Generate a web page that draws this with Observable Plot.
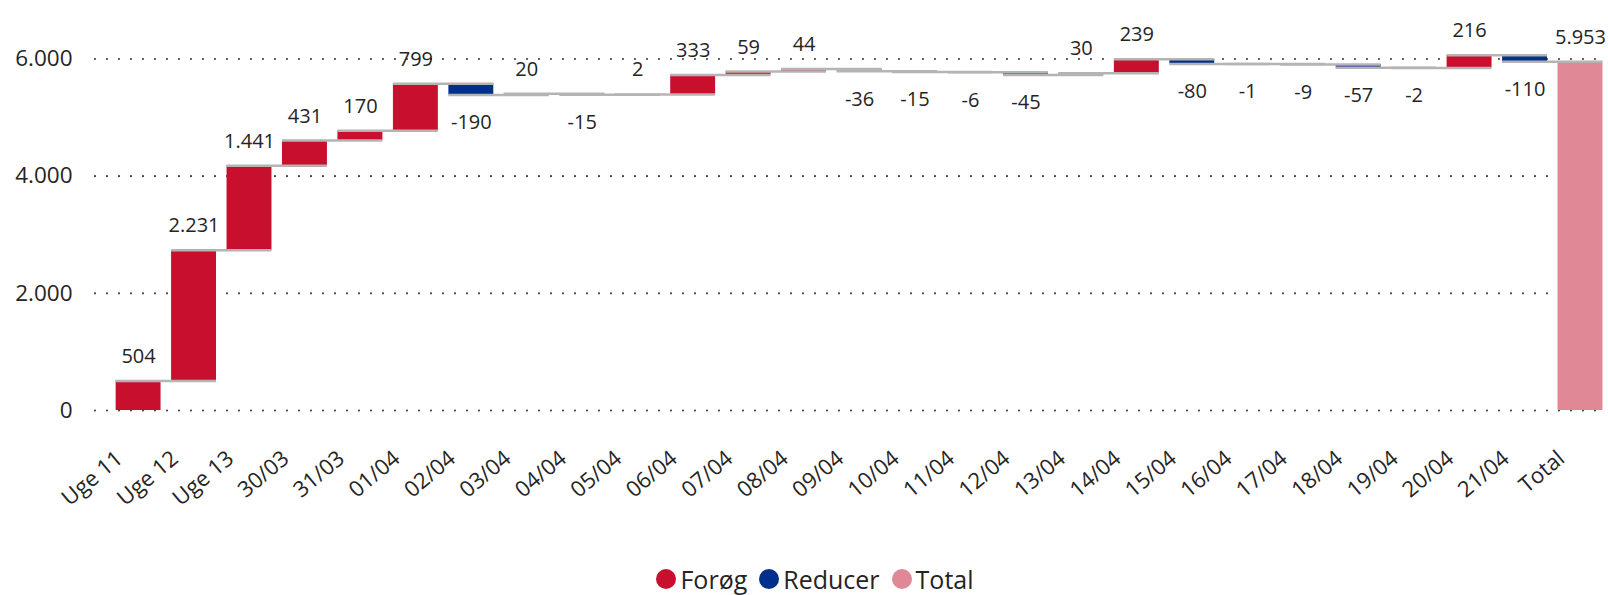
<!DOCTYPE html>
<html><head><meta charset="utf-8">
<script src="https://cdn.jsdelivr.net/npm/d3@7"></script>
<script src="https://cdn.jsdelivr.net/npm/@observablehq/plot@0.6"></script>
<style>
html,body{margin:0;padding:0;background:#fff;}
body{width:1608px;height:595px;overflow:hidden;position:relative;font-family:"Open Sans",sans-serif;color:#252423;}
#chart{position:absolute;left:0;top:0;}
#legend{position:absolute;left:0;right:0;top:564px;height:30px;padding-left:22px;display:flex;justify-content:center;align-items:center;font-size:25px;line-height:30px;}
.item{display:flex;align-items:center;margin:0 6px;}
.dot{width:20px;height:20px;border-radius:50%;margin-right:4px;}
</style></head><body>
<div id="chart"></div>
<div id="legend"></div>
<script>
const categories = ["Uge 11","Uge 12","Uge 13","30/03","31/03","01/04","02/04","03/04","04/04","05/04","06/04","07/04","08/04","09/04","10/04","11/04","12/04","13/04","14/04","15/04","16/04","17/04","18/04","19/04","20/04","21/04"];
const values = [504,2231,1441,431,170,799,-190,20,-15,2,333,59,44,-36,-15,-6,-45,30,239,-80,-1,-9,-57,-2,216,-110];
const totalLabel = "Total";
const totalValue = 5953;
const yTicks = [0,2000,4000,6000];
const legendNames = ["Forøg","Reducer","Total"];
const legendColors = ["#C8102E","#00308C","#E08896"];

let cum = 0;
const rows = categories.map((c,i)=>{const start=cum; cum+=values[i]; return {cat:c,start,end:cum,value:values[i],type:values[i]>=0?"Forøg":"Reducer"};});
rows.push({cat:totalLabel,start:0,end:totalValue,value:totalValue,type:"Total"});
const connectors = rows.slice(0,-1).map((r,i)=>({x1:r.cat,x2:rows[i+1].cat,y:r.end}));
const fmt = d3.formatLocale({decimal:",",thousands:".",grouping:[3],minus:"-"}).format(",d");

const chart = Plot.plot({
  width:1608, height:545,
  marginTop:58.5, marginBottom:135, marginLeft:95, marginRight:4,
  style:{fontFamily:"Open Sans, sans-serif", fontSize:"20px", color:"#252423", background:"#fff", overflow:"visible"},
  x:{domain:rows.map(d=>d.cat), paddingInner:0.19, paddingOuter:0.2, align:0.93, round:false},
  y:{domain:[0,6000]},
  color:{domain:legendNames, range:legendColors},
  marks:[
    Plot.ruleY(yTicks,{stroke:"#444",strokeWidth:2.2,strokeDasharray:"0,12",strokeLinecap:"round"}),
    Plot.axisY({ticks:yTicks,tickFormat:fmt,tickSize:0,tickPadding:23,label:null,fontSize:22.5,fill:"#252423"}),
    Plot.axisX({tickSize:0,tickRotate:-40,tickPadding:45,dx:-19,label:null,fontSize:22,fill:"#252423"}),
    Plot.barY(rows,{x:"cat",y1:"start",y2:"end",fill:"type"}),
    Plot.ruleY(connectors,{x1:"x1",x2:"x2",y:"y",stroke:"#b6b4b2",strokeWidth:2.5}),
    Plot.text(rows.filter(d=>d.type!=="Reducer"),{x:"cat",y:"end",text:d=>fmt(d.value),dy:-24.5,fill:"#252423",fontSize:20}),
    Plot.text(rows.filter(d=>d.type==="Reducer"),{x:"cat",y:"end",text:d=>fmt(d.value),dy:28,fill:"#252423",fontSize:20})
  ]
});
document.getElementById("chart").appendChild(chart);

const legend = document.getElementById("legend");
legendNames.forEach((n,i)=>{
  const it=document.createElement("div"); it.className="item";
  const dot=document.createElement("div"); dot.className="dot"; dot.style.background=legendColors[i];
  const t=document.createElement("span"); t.textContent=n;
  it.appendChild(dot); it.appendChild(t); legend.appendChild(it);
});
</script>
</body></html>
